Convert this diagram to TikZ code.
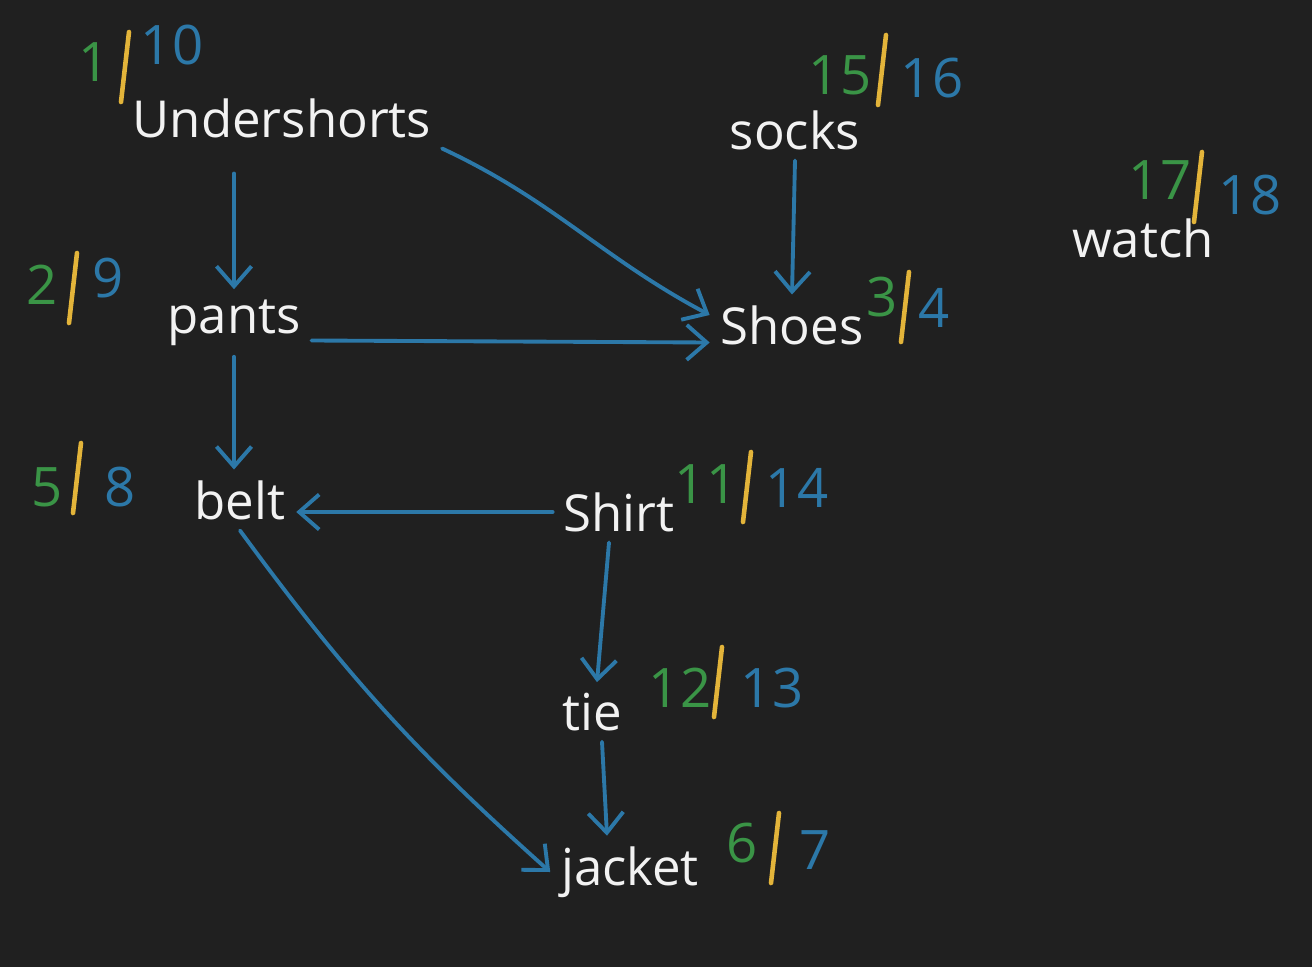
\documentclass[tikz,border=0pt]{standalone}
\usepackage{fontspec}
\setmainfont{Open Sans}
\usetikzlibrary{arrows.meta,positioning}
\definecolor{board}{HTML}{202020}
\definecolor{chalk}{HTML}{F2F2F2}
\definecolor{grn}{HTML}{3A9446}
\definecolor{gld}{HTML}{E3B43A}
\definecolor{blu}{HTML}{2C78A8}

\begin{document}
\begin{tikzpicture}[x=0.02cm,y=-0.02cm,
  item/.style={text=chalk,font=\fontsize{29}{32}\selectfont,inner sep=6pt},
  gnum/.style={text=grn,font=\fontsize{31}{33}\selectfont,inner sep=0pt},
  bnum/.style={text=blu,font=\fontsize{31}{33}\selectfont,inner sep=0pt},
  slash/.style={draw=gld,line width=2.6pt,line cap=round},
  arr/.style={draw=blu,line width=2.2pt,line cap=round,-{Straight Barb[length=4mm,width=7mm,line width=2.2pt]}}]
\fill[board] (0,0) rectangle (1312,967);
\useasboundingbox (0,0) rectangle (1312,967);

% garments
\node[item] (under) at (282,118) {Undershorts};
\node[item] (socks) at (795,130) {socks};
\node[item] (watch) at (1143,238) {watch};
\node[item] (pants) at (234,323) {pants};
\node[item] (shoes) at (792,325) {Shoes};
\node[item] (belt) at (240,500) {belt};
\node[item] (shirt) at (619,512) {Shirt};
\node[item] (tie) at (592,712) {tie};
\node[item] (jacket) at (630,872) {jacket};

% dependencies
\draw[arr,shorten <=0.5cm] (under.south -| pants.north) -- (pants.north);
\draw[arr] (under.south east) to[out=-25,in=152] ([yshift=0.2cm]shoes.west);
\draw[arr] (socks.south) -- (shoes.north);
\draw[arr] ([yshift=-0.35cm]pants.east) -- ([yshift=-0.35cm]shoes.west);
\draw[arr] (pants.south) -- (pants.south |- belt.north);
\draw[arr] (shirt.west) -- (shirt.west -| belt.east);
\draw[arr] ([xshift=-0.2cm]shirt.south) -- ([xshift=0.1cm]tie.north);
\draw[arr] (belt.south) to[bend right=6] (jacket.west);
\draw[arr] ([xshift=0.2cm]tie.south) -- ([xshift=0.3cm]tie.south |- jacket.north);

% discovery / finish times
\foreach \g/\b/\gx/\gy/\bx/\by/\sx/\sy in {1/10/94/62/172/45/125/67,
  15/16/840/75/932/78/882/70, 17/18/1160/180/1250/195/1198/187,
  2/9/42/285/108/278/73/288, 3/4/882/297/934/308/905/307,
  5/8/47/487/120/487/77/478, 11/14/706/484/797/488/747/487,
  12/13/680/688/772/688/718/682, 6/7/742/843/815/850/775/848}{
  \node[gnum] (g-\g) at (\gx,\gy) {\g};
  \node[bnum] (b-\b) at (\bx,\by) {\b};
  \draw[slash] (\sx+4,\sy-35) -- (\sx-4,\sy+35);
}
\end{tikzpicture}
\end{document}
